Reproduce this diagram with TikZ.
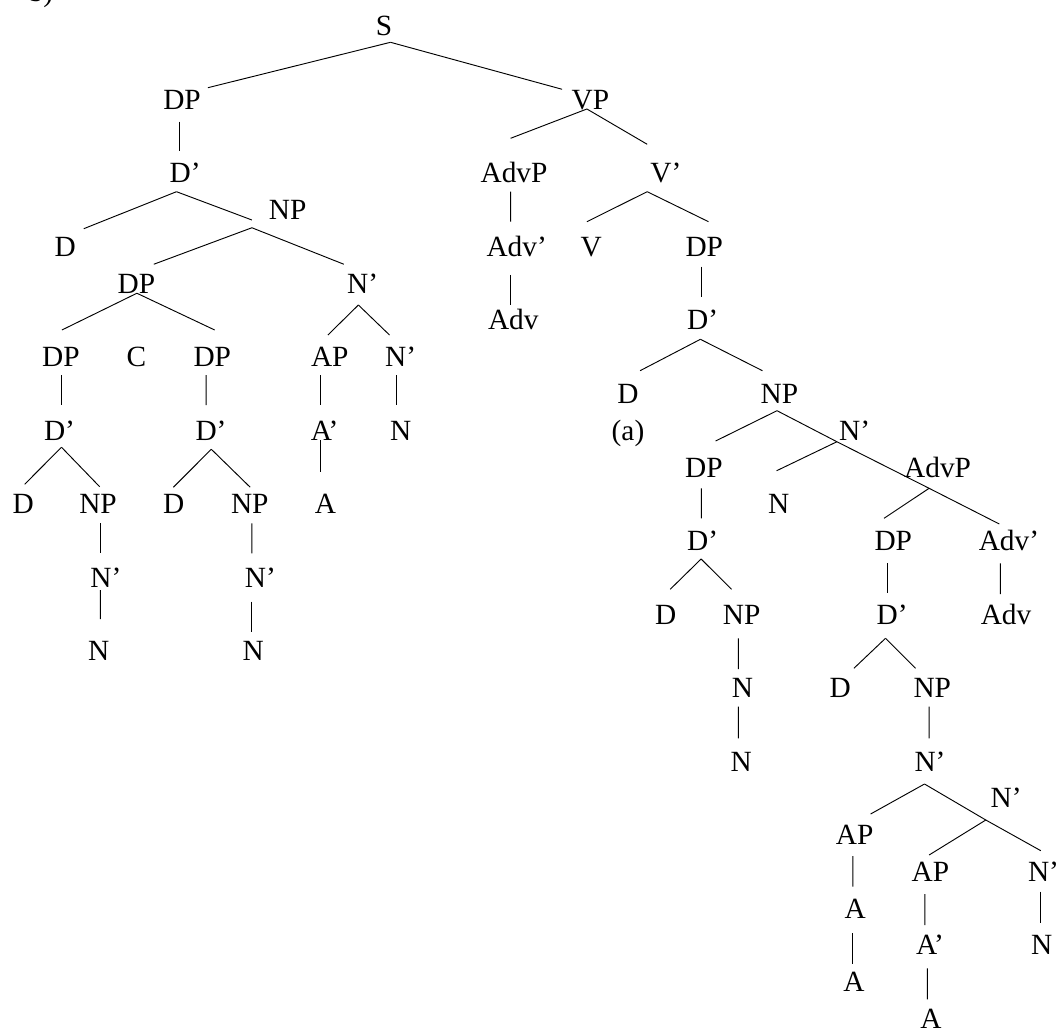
\documentclass[tikz,border=0pt]{standalone}
\usepackage{fontspec}
\setmainfont{Liberation Serif}
\usetikzlibrary{calc}
\newcommand\lnk[4]{\draw[br] ($(#1.base)+(#2)$) -- ($(#3.base)+(#4)$);}
\begin{document}
\begin{tikzpicture}[x=0.75pt,y=-0.75pt,
  lbl/.style={anchor=base,inner sep=0pt,font=\fontsize{22}{26}\selectfont},
  br/.style={line width=0.7pt,black}]
\useasboundingbox (0,0) rectangle (1056,1030);
\clip (0,0) rectangle (1056,1030);
\node[lbl] (top) at (41,1.5) {b)};
% nodes
\node[lbl] (S) at (384,36) {S};
\node[lbl] (DPa) at (182,109.5) {DP};
\node[lbl] (VP) at (590.4,109.5) {VP};
\node[lbl] (Dba) at (185.1,183) {D’};
\node[lbl] (AdvPa) at (514,183) {AdvP};
\node[lbl] (Vb) at (665.8,183) {V’};
\node[lbl] (NPa) at (287.7,219.75) {NP};
\node[lbl] (Da) at (65.1,256.5) {D};
\node[lbl] (Advba) at (516.7,256.5) {Adv’};
\node[lbl] (V) at (591.3,256.5) {V};
\node[lbl] (DPb) at (704.3,256.5) {DP};
\node[lbl] (DPc) at (136.4,293.25) {DP};
\node[lbl] (Nba) at (362.6,293.25) {N’};
\node[lbl] (Adva) at (513.3,330) {Adv};
\node[lbl] (Dbb) at (702.7,330) {D’};
\node[lbl] (DPd) at (60.9,366.75) {DP};
\node[lbl] (C) at (136.4,366.75) {C};
\node[lbl] (DPe) at (212.3,366.75) {DP};
\node[lbl] (APa) at (329.8,366.75) {AP};
\node[lbl] (Nbb) at (400.6,366.75) {N’};
\node[lbl] (Db) at (628,403.5) {D};
\node[lbl] (NPb) at (779.4,403.5) {NP};
\node[lbl] (Dbc) at (59.5,440.25) {D’};
\node[lbl] (Dbd) at (211,440.25) {D’};
\node[lbl] (Aba) at (324.6,440.25) {A’};
\node[lbl] (Na) at (400.6,440.25) {N};
\node[lbl] (lbla) at (628,440.25) {(a)};
\node[lbl] (Nbc) at (854.6,440.25) {N’};
\node[lbl] (DPf) at (703.9,477) {DP};
\node[lbl] (AdvPb) at (937.6,477) {AdvP};
\node[lbl] (Dc) at (23.3,513.75) {D};
\node[lbl] (NPc) at (98,513.75) {NP};
\node[lbl] (Dd) at (173.8,513.75) {D};
\node[lbl] (NPd) at (249.8,513.75) {NP};
\node[lbl] (Aa) at (325.4,513.75) {A};
\node[lbl] (Nb) at (778.7,513.75) {N};
\node[lbl] (Dbe) at (702.7,550.5) {D’};
\node[lbl] (DPg) at (893.3,550.5) {DP};
\node[lbl] (Advbb) at (1008.9,550.5) {Adv’};
\node[lbl] (Nbd) at (105.8,587.25) {N’};
\node[lbl] (Nbe) at (260.3,587.25) {N’};
\node[lbl] (De) at (665.6,624) {D};
\node[lbl] (NPe) at (741.6,624) {NP};
\node[lbl] (Dbf) at (892.2,624) {D’};
\node[lbl] (Advb) at (1006,624) {Adv};
\node[lbl] (Nc) at (98.7,660.75) {N};
\node[lbl] (Nd) at (253.2,660.75) {N};
\node[lbl] (Ne) at (742.4,697.5) {N};
\node[lbl] (Df) at (840.1,697.5) {D};
\node[lbl] (NPf) at (932.3,697.5) {NP};
\node[lbl] (Nf) at (741.1,771) {N};
\node[lbl] (Nbf) at (930,771) {N’};
\node[lbl] (Nbg) at (1006.2,807.75) {N’};
\node[lbl] (APb) at (854.6,844.5) {AP};
\node[lbl] (APc) at (930.4,881.25) {AP};
\node[lbl] (Nbh) at (1043.5,881.25) {N’};
\node[lbl] (Ab) at (855.3,918) {A};
\node[lbl] (Abb) at (930,954.75) {A’};
\node[lbl] (Ng) at (1041.7,954.75) {N};
\node[lbl] (Ac) at (853.9,991.5) {A};
\node[lbl] (Ad) at (930.9,1028.25) {A};
% connectors
\lnk{S}{6.5,6.3}{DPa}{25.9,-21.8}
\lnk{S}{6.5,6.3}{VP}{-28.3,-20.2}
\lnk{DPa}{-2.8,12.2}{Dba}{-5.9,-32}
\lnk{Dba}{-8.6,8.7}{Da}{18.7,-27.8}
\lnk{Dba}{-8.6,8.7}{NPa}{-35.8,0.25}
\lnk{NPa}{-35.8,8}{DPc}{17.4,-29}
\lnk{NPa}{-35.8,8}{Nba}{-18.8,-29}
\lnk{VP}{-3.5,-0.5}{AdvPa}{-3.4,-44.7}
\lnk{VP}{-3.5,-0.5}{Vb}{-18.6,-38.7}
\lnk{AdvPa}{-3.4,8.7}{Advba}{-6.1,-34.8}
\lnk{Vb}{-18.6,8.7}{V}{-4.4,-34.8}
\lnk{Vb}{-18.6,8.7}{DPb}{4.2,-34.8}
\lnk{Advba}{-6.1,18.5}{Adva}{-2.7,-25}
\lnk{DPb}{-2.9,10.2}{Dbb}{-1.3,-33.3}
\lnk{DPc}{0.5,0}{DPd}{1,-36.75}
\lnk{DPc}{0.5,0}{DPe}{2.4,-36.75}
\lnk{Nba}{-4.2,11.75}{APa}{-1.9,-31.75}
\lnk{Nba}{-4.2,11.75}{Nbb}{-11.1,-31.75}
\lnk{DPd}{1,8.25}{Dbc}{2.4,-35.25}
\lnk{DPe}{-6.1,8.25}{Dbd}{-4.8,-35.25}
\lnk{APa}{-9.3,8.25}{Aba}{-4.1,-35.25}
\lnk{Nbb}{-4,8.25}{Na}{-4,-35.25}
\lnk{Dbb}{-2.3,9.3}{Db}{12.1,-32.8}
\lnk{Dbb}{-2.3,9.3}{NPb}{-17,-32.8}
\lnk{Dbc}{2,7}{Dc}{1.4,-29.5}
\lnk{Dbc}{2,7}{NPc}{1.7,-27}
\lnk{Dbd}{0.3,9}{Dd}{-0.4,-26.5}
\lnk{Dbd}{0.3,9}{NPd}{0.4,-26.5}
\lnk{Aba}{-4.1,-0.25}{Aa}{-4.9,-42}
\lnk{NPb}{-2.4,7.2}{DPf}{11.7,-36}
\lnk{NPb}{-2.4,7.2}{Nbc}{-17.7,1.5}
\lnk{Nbc}{-17.7,1.5}{Nb}{-2.1,-43}
\lnk{Nbc}{-17.7,1.5}{AdvPb}{-8.5,11.3}
\lnk{AdvPb}{-8.5,11.3}{DPg}{-9.3,-32.2}
\lnk{AdvPb}{-8.5,11.3}{Advbb}{-9.6,-26.5}
\lnk{DPf}{-2.5,11.3}{Dbe}{-1.3,-32.2}
\lnk{NPc}{2.1,9.55}{Nbd}{-5.7,-33.95}
\lnk{NPd}{2.1,9.55}{Nbe}{-8.4,-33.95}
\lnk{DPg}{-6.1,12.8}{Dbf}{-5,-30.7}
\lnk{Advbb}{-8.5,12.8}{Advb}{-5.6,-30}
\lnk{Dbe}{-1.6,8.5}{De}{4.6,-34.7}
\lnk{Dbe}{-1.6,8.5}{NPe}{-10,-34.7}
\lnk{Nbd}{-5.4,2.75}{Nc}{1.7,-41.75}
\lnk{Nbe}{-8.4,14.45}{Nd}{-1.3,-29.05}
\lnk{Dbf}{-6.7,14.3}{Df}{13.8,-29.2}
\lnk{Dbf}{-6.7,14.3}{NPf}{-16.7,-29.2}
\lnk{NPe}{-3.3,14.3}{Ne}{-4.1,-28.5}
\lnk{Ne}{-4.1,9.2}{Nf}{-2.8,-32.7}
\lnk{NPf}{-3.2,9.2}{Nbf}{-0.9,-32.7}
\lnk{Nbf}{-5.5,13}{APb}{16,-30.5}
\lnk{Nbf}{-5.5,13}{Nbg}{-20.4,12.25}
\lnk{Nbg}{-20.4,12.25}{APc}{-1.3,-26.25}
\lnk{Nbg}{-20.4,12.25}{Nbh}{-2.7,-30.55}
\lnk{APb}{-1.8,11.5}{Ab}{-2.5,-31.3}
\lnk{APc}{-5.6,12.75}{Abb}{-5.2,-29.75}
\lnk{Nbh}{-2.7,10.45}{Ng}{-0.9,-32.05}
\lnk{Ab}{-2.5,15.3}{Ac}{-1.1,-27.5}
\lnk{Abb}{-2.7,13.55}{Ad}{-3.6,-28.95}
\end{tikzpicture}
\end{document}
